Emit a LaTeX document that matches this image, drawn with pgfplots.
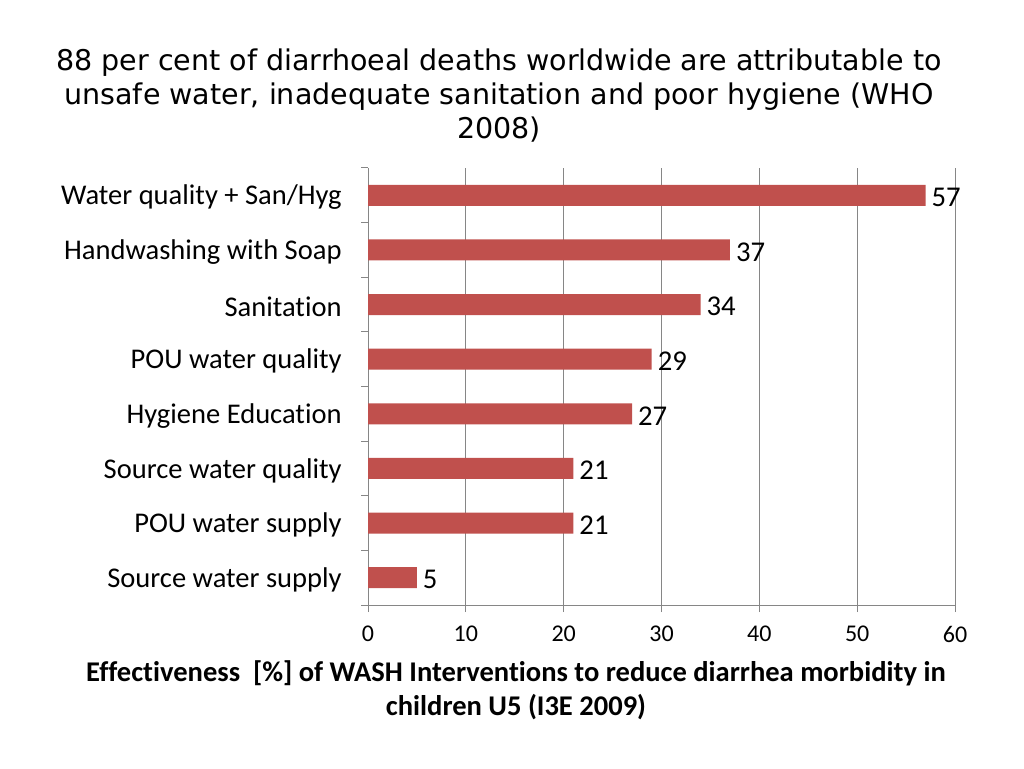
\documentclass[border=0pt]{standalone}
\usepackage{pgfplots}
\pgfplotsset{compat=1.18}
\usepackage{fontspec}
\setmainfont{Carlito}[Ligatures=NoCommon]
\newfontfamily\titlefont{DejaVu Sans}
\definecolor{barred}{HTML}{C0504D}
\definecolor{gridgray}{HTML}{868686}
\pgfplotstableread{
y val
0 5
1 21
2 21
3 27
4 29
5 34
6 37
7 57
}\datatable
\begin{document}
\begin{tikzpicture}
\path[use as bounding box] (0,0) rectangle (768pt,576pt);
\node[font=\titlefont\fontsize{21.4}{25.5}\selectfont, align=center] at (374.25pt,504.5pt)
  {88 per cent of diarrhoeal deaths worldwide are attributable to\\unsafe water, inadequate sanitation and poor hygiene (WHO\\2008)};
\node[font=\bfseries\fontsize{21.4}{25.5}\selectfont, align=center] at (387pt,58pt)
  {Effectiveness\ \ [\%] of WASH Interventions to reduce diarrhea morbidity in\\children U5 (I3E 2009)};
\begin{axis}[
  at={(276pt,122.25pt)}, anchor=south west,
  width=440.25pt, height=327.75pt, scale only axis,
  xmin=0, xmax=60, ymin=-0.5, ymax=7.5,
  xbar, bar width=15.75pt,
  axis x line=bottom, axis y line=left,
  axis line style={draw=gridgray, line width=0.75pt, -},
  xtick={0,10,...,60},
  xmajorgrids, grid style={draw=gridgray, line width=0.75pt},
  ytick={0,...,7},
  yticklabels={Source water supply, POU water supply, Source water quality, Hygiene Education, POU water quality, Sanitation, Handwashing with Soap, Water quality + San/Hyg},
  minor ytick={-0.5,0.5,...,7.5},
  major y tick style={draw=none},
  minor y tick style={draw=gridgray, line width=0.75pt},
  major x tick style={draw=gridgray, line width=0.75pt},
  tick align=outside,
  major tick length=5.25pt, minor tick length=5.25pt,
  yticklabel style={font=\fontsize{21.4}{24}\selectfont, xshift=-11pt, yshift=-1.5pt},
  xticklabel style={font=\fontsize{18}{20}\selectfont, yshift=-7pt},
  /pgf/number format/assume math mode=true,
  nodes near coords,
  nodes near coords style={font=\fontsize{21.5}{24}\selectfont, text=black, xshift=1pt, yshift=-1.5pt},
  clip=false,
]
\addplot[fill=barred, draw=none] table[x=val, y=y] {\datatable};
\end{axis}
\end{tikzpicture}
\end{document}
